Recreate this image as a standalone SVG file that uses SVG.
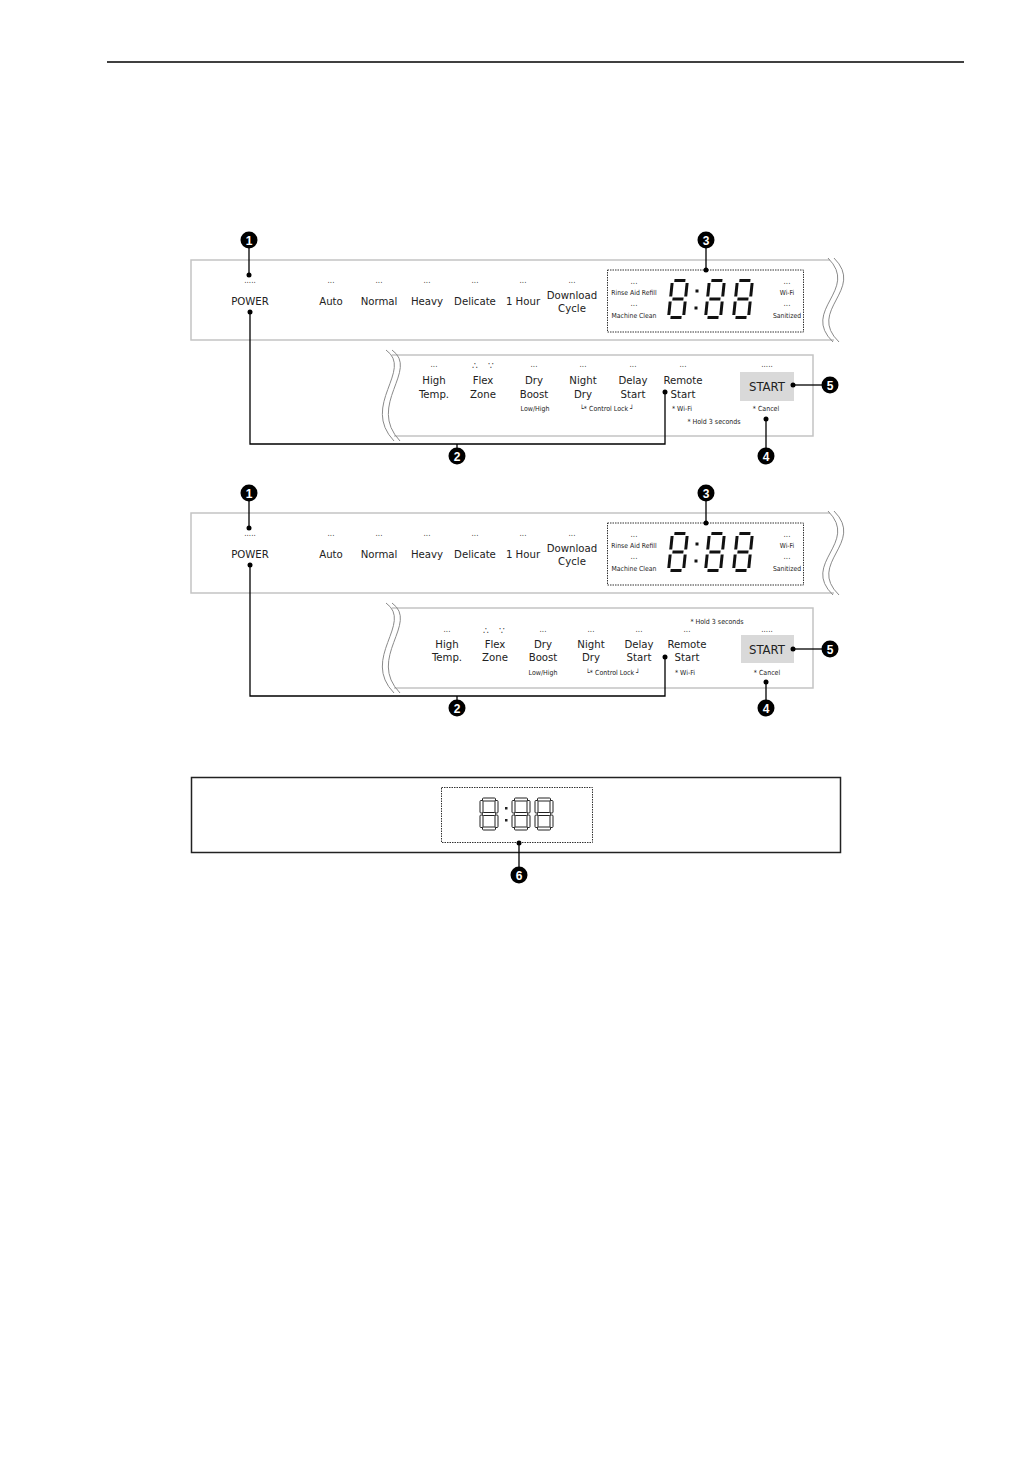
<svg xmlns="http://www.w3.org/2000/svg" xmlns:xlink="http://www.w3.org/1999/xlink" width="1032" height="1458" viewBox="0 0 1032 1458">
<style>
  text { font-family: "Liberation Sans Narrow", "DejaVu Sans Condensed", "Liberation Sans", sans-serif; fill: #222; text-anchor: middle; }
  .lbl { font-size: 11.3px; }
  .sm { font-size: 6.8px; }
  .xs { font-size: 7px; }
  .dots { font-size: 8px; fill: #444; }
  .tri { font-size: 10px; fill: #444; }
  .start { font-size: 13px; }
  .panel { fill: none; stroke: #c4c4c4; stroke-width: 1.5; }
  .wave { fill: none; stroke: #8a8a8a; stroke-width: 1; }
  .conn { fill: none; stroke: #000; stroke-width: 1.3; }
  .dotbox { fill: none; stroke: #333; stroke-width: 1; stroke-dasharray: 1.5 1; }
  .num { font-family: "Liberation Sans", sans-serif; font-weight: bold; font-size: 12px; fill: #fff; }
  .seg line { stroke: #111; stroke-width: 3; }
  .oseg rect { fill: none; stroke: #222; stroke-width: 1; }
</style>
<defs>
  <g id="digit" class="seg">
    <line x1="2.5" y1="1" x2="13.5" y2="1"/>
    <line x1="0.5" y1="3.5" x2="0.5" y2="17"/>
    <line x1="15.5" y1="3.5" x2="15.5" y2="17"/>
    <line x1="2.5" y1="19.5" x2="13.5" y2="19.5"/>
    <line x1="0.5" y1="22" x2="0.5" y2="35.5"/>
    <line x1="15.5" y1="22" x2="15.5" y2="35.5"/>
    <line x1="2.5" y1="38" x2="13.5" y2="38"/>
  </g>
  <g id="odigit" class="oseg">
    <rect x="2.5" y="0" width="13" height="3" rx="1"/>
    <rect x="0" y="2.5" width="3" height="12.5" rx="1"/>
    <rect x="15" y="2.5" width="3" height="12.5" rx="1"/>
    <rect x="2.5" y="14.5" width="13" height="3" rx="1"/>
    <rect x="0" y="17" width="3" height="12.5" rx="1"/>
    <rect x="15" y="17" width="3" height="12.5" rx="1"/>
    <rect x="2.5" y="29" width="13" height="3" rx="1"/>
  </g>
</defs>

<rect width="1032" height="1458" fill="#fff"/>
<line x1="107" y1="62" x2="964" y2="62" stroke="#000" stroke-width="1.5"/>

<!-- ===== Set 1 ===== -->
<g id="top-panel-1">
  <path class="panel" d="M830 260 H191 V340 H834"/>
  <path class="wave" d="M828 258 C860 290 800 310 833 342"/>
  <path class="wave" d="M834 258 C866 290 806 310 839 342"/>
  <text class="dots" x="250" y="283">.....</text>
  <text class="lbl" x="250" y="305">POWER</text>
  <text class="dots" x="331" y="283">...</text><text class="lbl" x="331" y="305">Auto</text>
  <text class="dots" x="379" y="283">...</text><text class="lbl" x="379" y="305">Normal</text>
  <text class="dots" x="427" y="283">...</text><text class="lbl" x="427" y="305">Heavy</text>
  <text class="dots" x="475" y="283">...</text><text class="lbl" x="475" y="305">Delicate</text>
  <text class="dots" x="523" y="283">...</text><text class="lbl" x="523" y="305">1 Hour</text>
  <text class="dots" x="572" y="283">...</text><text class="lbl" x="572" y="298.5">Download</text><text class="lbl" x="572" y="312">Cycle</text>
  <rect class="dotbox" x="607.5" y="270" width="196" height="62"/>
  <text class="dots" x="634" y="284">...</text><text class="sm" x="634" y="294.5">Rinse Aid Refill</text>
  <text class="dots" x="634" y="306">...</text><text class="sm" x="634" y="317.5">Machine Clean</text>
  <text class="dots" x="787" y="284">...</text><text class="sm" x="787" y="294.5">Wi-Fi</text>
  <text class="dots" x="787" y="306">...</text><text class="sm" x="787" y="317.5">Sanitized</text>
  <use xlink:href="#digit" transform="translate(672,279.5) skewX(-6)"/>
  <rect x="695.5" y="289.5" width="3" height="3" fill="#111"/>
  <rect x="694.5" y="306.5" width="3" height="3" fill="#111"/>
  <use xlink:href="#digit" transform="translate(709,279.5) skewX(-6)"/>
  <use xlink:href="#digit" transform="translate(737,279.5) skewX(-6)"/>
</g>

<g id="bottom-panel-1">
  <path class="panel" d="M392 355 H813 V436 H394"/>
  <path class="wave" d="M386 350 C414 370 360 405 394 441"/>
  <path class="wave" d="M392 350 C420 370 366 405 400 441"/>
  <text class="dots" x="434" y="367">...</text><text class="lbl" x="434" y="384">High</text><text class="lbl" x="434" y="398">Temp.</text>
  <text class="tri" x="475" y="369">∴</text><text class="tri" x="491" y="369">∵</text>
  <text class="lbl" x="483" y="384">Flex</text><text class="lbl" x="483" y="398">Zone</text>
  <text class="dots" x="534" y="367">...</text><text class="lbl" x="534" y="384">Dry</text><text class="lbl" x="534" y="398">Boost</text>
  <text class="xs" x="535" y="411">Low/High</text>
  <text class="dots" x="583" y="367">...</text><text class="lbl" x="583" y="384">Night</text><text class="lbl" x="583" y="398">Dry</text>
  <text class="dots" x="633" y="367">...</text><text class="lbl" x="633" y="384">Delay</text><text class="lbl" x="633" y="398">Start</text>
  <text class="xs" x="607" y="411">└* Control Lock ┘</text>
  <text class="dots" x="683" y="367">...</text><text class="lbl" x="683" y="384">Remote</text><text class="lbl" x="683" y="398">Start</text>
  <text class="xs" x="682" y="411">* Wi-Fi</text>
  <text class="xs" x="714" y="424">* Hold 3 seconds</text>
  <text class="dots" x="767" y="367">.....</text>
  <rect x="740" y="372" width="54" height="29" fill="#d9d9d9"/>
  <text class="start" x="767" y="391">START</text>
  <text class="xs" x="766" y="411">* Cancel</text>
</g>

<!-- ===== Set 2 ===== -->
<g id="top-panel-2" transform="translate(0,253)">
  <path class="panel" d="M830 260 H191 V340 H834"/>
  <path class="wave" d="M828 258 C860 290 800 310 833 342"/>
  <path class="wave" d="M834 258 C866 290 806 310 839 342"/>
  <text class="dots" x="250" y="283">.....</text>
  <text class="lbl" x="250" y="305">POWER</text>
  <text class="dots" x="331" y="283">...</text><text class="lbl" x="331" y="305">Auto</text>
  <text class="dots" x="379" y="283">...</text><text class="lbl" x="379" y="305">Normal</text>
  <text class="dots" x="427" y="283">...</text><text class="lbl" x="427" y="305">Heavy</text>
  <text class="dots" x="475" y="283">...</text><text class="lbl" x="475" y="305">Delicate</text>
  <text class="dots" x="523" y="283">...</text><text class="lbl" x="523" y="305">1 Hour</text>
  <text class="dots" x="572" y="283">...</text><text class="lbl" x="572" y="298.5">Download</text><text class="lbl" x="572" y="312">Cycle</text>
  <rect class="dotbox" x="607.5" y="270" width="196" height="62"/>
  <text class="dots" x="634" y="284">...</text><text class="sm" x="634" y="294.5">Rinse Aid Refill</text>
  <text class="dots" x="634" y="306">...</text><text class="sm" x="634" y="317.5">Machine Clean</text>
  <text class="dots" x="787" y="284">...</text><text class="sm" x="787" y="294.5">Wi-Fi</text>
  <text class="dots" x="787" y="306">...</text><text class="sm" x="787" y="317.5">Sanitized</text>
  <use xlink:href="#digit" transform="translate(672,279.5) skewX(-6)"/>
  <rect x="695.5" y="289.5" width="3" height="3" fill="#111"/>
  <rect x="694.5" y="306.5" width="3" height="3" fill="#111"/>
  <use xlink:href="#digit" transform="translate(709,279.5) skewX(-6)"/>
  <use xlink:href="#digit" transform="translate(737,279.5) skewX(-6)"/>
</g>

<g id="bottom-panel-2">
  <path class="panel" d="M392 608 H813 V688 H394"/>
  <path class="wave" d="M386 603 C414 623 360 658 394 693"/>
  <path class="wave" d="M392 603 C420 623 366 658 400 693"/>
  <text class="xs" x="717" y="624">* Hold 3 seconds</text>
  <text class="dots" x="447" y="632">...</text><text class="lbl" x="447" y="648">High</text><text class="lbl" x="447" y="661">Temp.</text>
  <text class="tri" x="486" y="634">∴</text><text class="tri" x="502" y="634">∵</text>
  <text class="lbl" x="495" y="648">Flex</text><text class="lbl" x="495" y="661">Zone</text>
  <text class="dots" x="543" y="632">...</text><text class="lbl" x="543" y="648">Dry</text><text class="lbl" x="543" y="661">Boost</text>
  <text class="xs" x="543" y="674.5">Low/High</text>
  <text class="dots" x="591" y="632">...</text><text class="lbl" x="591" y="648">Night</text><text class="lbl" x="591" y="661">Dry</text>
  <text class="dots" x="639" y="632">...</text><text class="lbl" x="639" y="648">Delay</text><text class="lbl" x="639" y="661">Start</text>
  <text class="xs" x="613" y="674.5">└* Control Lock ┘</text>
  <text class="dots" x="687" y="632">...</text><text class="lbl" x="687" y="648">Remote</text><text class="lbl" x="687" y="661">Start</text>
  <text class="xs" x="685" y="674.5">* Wi-Fi</text>
  <text class="dots" x="767" y="632">.....</text>
  <rect x="741" y="635" width="53" height="28" fill="#d9d9d9"/>
  <text class="start" x="767" y="654">START</text>
  <text class="xs" x="767" y="674.5">* Cancel</text>
</g>

<!-- ===== Simple display ===== -->
<g id="display-panel">
  <rect x="191.5" y="777.5" width="649" height="75" fill="none" stroke="#222" stroke-width="1.5"/>
  <rect class="dotbox" x="441.5" y="787.5" width="151" height="55"/>
  <use xlink:href="#odigit" transform="translate(480,798)"/>
  <rect x="505" y="807" width="2.5" height="2.5" fill="#222"/>
  <rect x="505" y="819" width="2.5" height="2.5" fill="#222"/>
  <use xlink:href="#odigit" transform="translate(512,798)"/>
  <use xlink:href="#odigit" transform="translate(535,798)"/>
</g>

<!-- ===== Connectors ===== -->
<g id="connectors">
  <path class="conn" d="M249 248 V275"/>
  <circle cx="249" cy="275" r="2.5"/>
  <path class="conn" d="M250 312 V444 H665 V392"/>
  <circle cx="250" cy="312" r="2.5"/>
  <circle cx="665" cy="392" r="2.5"/>
  <path class="conn" d="M457 444 V448"/>
  <path class="conn" d="M706 248 V270"/>
  <circle cx="706" cy="270" r="2.5"/>
  <path class="conn" d="M766 419 V448"/>
  <circle cx="766" cy="419" r="2.5"/>
  <path class="conn" d="M793 385 H822"/>
  <circle cx="793" cy="385" r="2.5"/>
  <path class="conn" d="M249 501 V528"/>
  <circle cx="249" cy="528" r="2.5"/>
  <path class="conn" d="M250 565 V696 H665 V657"/>
  <circle cx="250" cy="565" r="2.5"/>
  <circle cx="665" cy="657" r="2.5"/>
  <path class="conn" d="M457 696 V700"/>
  <path class="conn" d="M706 501 V523"/>
  <circle cx="706" cy="523" r="2.5"/>
  <path class="conn" d="M766 682 V700"/>
  <circle cx="766" cy="682" r="2.5"/>
  <path class="conn" d="M793 649 H822"/>
  <circle cx="793" cy="649" r="2.5"/>
  <path class="conn" d="M519 843 V867"/>
  <circle cx="519" cy="843" r="2.5"/>
</g>

<!-- ===== Callouts ===== -->
<g id="callout-1a"><circle cx="249" cy="240" r="8.5"/><text class="num" x="249" y="244.5">1</text></g>
<g id="callout-2a"><circle cx="457" cy="456" r="8.5"/><text class="num" x="457" y="460.5">2</text></g>
<g id="callout-3a"><circle cx="706" cy="240" r="8.5"/><text class="num" x="706" y="244.5">3</text></g>
<g id="callout-4a"><circle cx="766" cy="456" r="8.5"/><text class="num" x="766" y="460.5">4</text></g>
<g id="callout-5a"><circle cx="830" cy="385" r="8.5"/><text class="num" x="830" y="389.5">5</text></g>
<g id="callout-1b"><circle cx="249" cy="493" r="8.5"/><text class="num" x="249" y="497.5">1</text></g>
<g id="callout-2b"><circle cx="457" cy="708" r="8.5"/><text class="num" x="457" y="712.5">2</text></g>
<g id="callout-3b"><circle cx="706" cy="493" r="8.5"/><text class="num" x="706" y="497.5">3</text></g>
<g id="callout-4b"><circle cx="766" cy="708" r="8.5"/><text class="num" x="766" y="712.5">4</text></g>
<g id="callout-5b"><circle cx="830" cy="649" r="8.5"/><text class="num" x="830" y="653.5">5</text></g>
<g id="callout-6"><circle cx="519" cy="875" r="8.5"/><text class="num" x="519" y="879.5">6</text></g>
</svg>
